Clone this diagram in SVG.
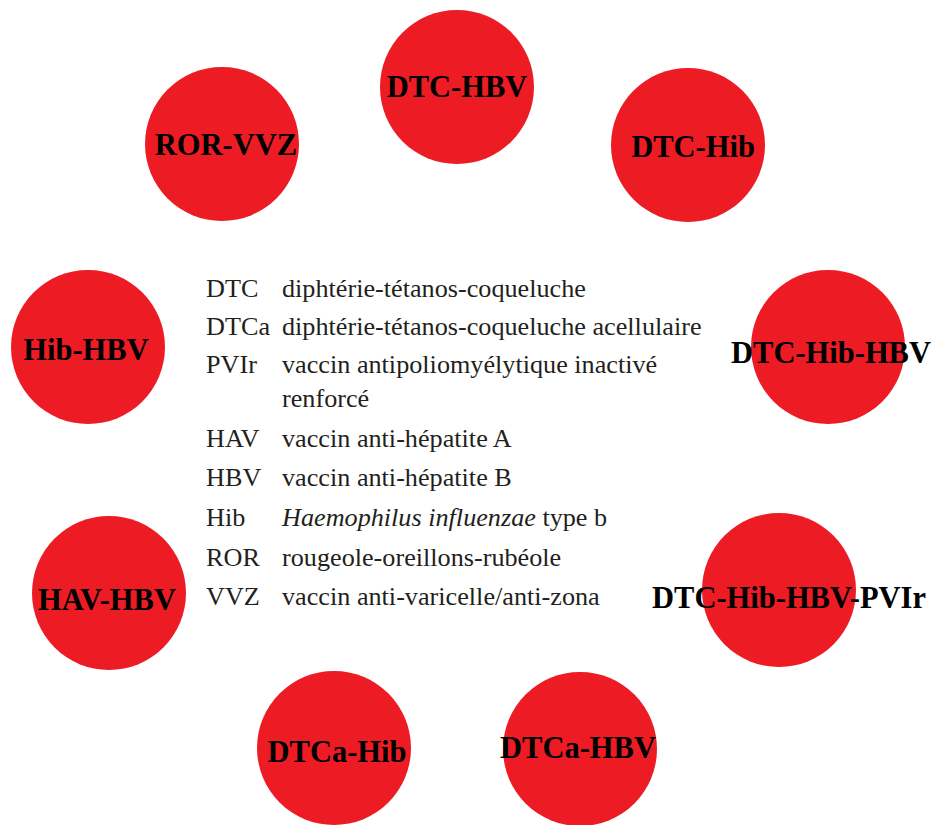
<svg xmlns="http://www.w3.org/2000/svg" width="934" height="825" viewBox="0 0 934 825">
<style>
.c{fill:#ED1C24}
.n{font-family:"Liberation Serif",serif;font-weight:bold;font-size:30.5px;fill:#000;text-anchor:middle}
.l{font-family:"Liberation Serif",serif;font-size:26.2px;fill:#231F20}
</style>
<rect width="934" height="825" fill="#fff"/>
<g id="connectors"/>
<g id="n-dtc-hbv"><circle class="c" cx="457" cy="87" r="77"/><text class="n" x="457" y="97">DTC-HBV</text></g>
<g id="n-dtc-hib"><circle class="c" cx="688" cy="145" r="77"/><text class="n" x="693" y="157">DTC-Hib</text></g>
<g id="n-ror-vvz"><circle class="c" cx="222" cy="144" r="77"/><text class="n" x="226" y="155">ROR-VVZ</text></g>
<g id="n-hib-hbv"><circle class="c" cx="88" cy="347" r="77"/><text class="n" x="86" y="360">Hib-HBV</text></g>
<g id="n-dtc-hib-hbv"><circle class="c" cx="828" cy="347" r="77"/><text class="n" x="831" y="363">DTC-Hib-HBV</text></g>
<g id="n-hav-hbv"><circle class="c" cx="109" cy="593" r="77"/><text class="n" x="107" y="610">HAV-HBV</text></g>
<g id="n-dtc-hib-hbv-pvir"><circle class="c" cx="779" cy="590" r="77"/><text class="n" x="789" y="608">DTC-Hib-HBV-PVIr</text></g>
<g id="n-dtca-hib"><circle class="c" cx="334" cy="748" r="77"/><text class="n" x="337" y="762">DTCa-Hib</text></g>
<g id="n-dtca-hbv"><circle class="c" cx="580" cy="749" r="77"/><text class="n" x="578" y="758">DTCa-HBV</text></g>
<g id="legend">
<text class="l" x="206" y="297">DTC</text><text class="l" x="282" y="297">diphtérie-tétanos-coqueluche</text>
<text class="l" x="206" y="335">DTCa</text><text class="l" x="282" y="335">diphtérie-tétanos-coqueluche acellulaire</text>
<text class="l" x="206" y="373">PVIr</text><text class="l" x="282" y="373">vaccin antipoliomyélytique inactivé</text>
<text class="l" x="282" y="407">renforcé</text>
<text class="l" x="206" y="447">HAV</text><text class="l" x="282" y="447">vaccin anti-hépatite A</text>
<text class="l" x="206" y="486">HBV</text><text class="l" x="282" y="486">vaccin anti-hépatite B</text>
<text class="l" x="206" y="526">Hib</text><text class="l" x="282" y="526"><tspan font-style="italic">Haemophilus influenzae</tspan> type b</text>
<text class="l" x="206" y="566">ROR</text><text class="l" x="282" y="566">rougeole-oreillons-rubéole</text>
<text class="l" x="206" y="605">VVZ</text><text class="l" x="282" y="605">vaccin anti-varicelle/anti-zona</text>
</g>
</svg>
